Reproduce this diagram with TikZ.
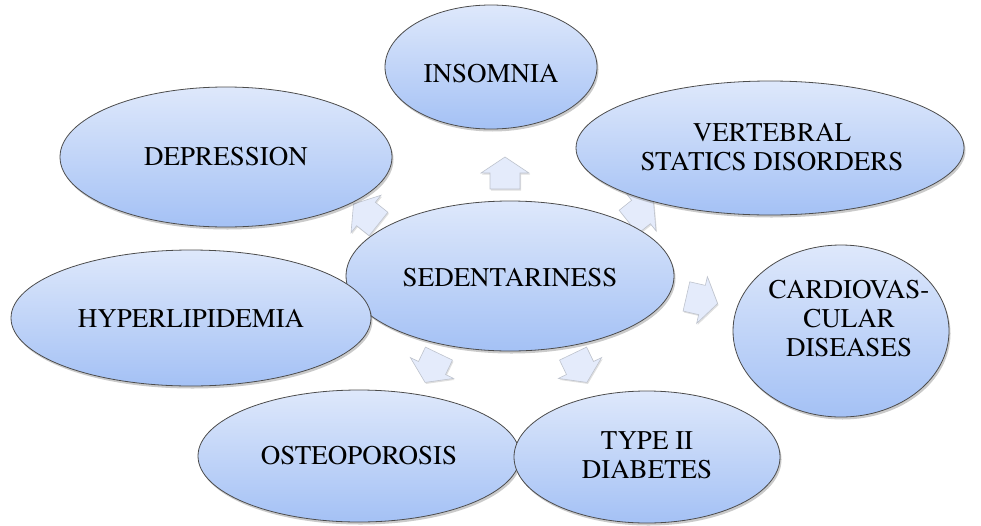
\documentclass[tikz,border=0pt]{standalone}
\usepackage{fontspec}
\setmainfont{texgyretermes}[Extension=.otf, UprightFont=*-regular, BoldFont=*-bold, ItalicFont=*-italic, BoldItalicFont=*-bolditalic]
\usetikzlibrary{shapes.geometric,shadows}
\definecolor{bubtop}{RGB}{222,232,251}
\definecolor{bubbot}{RGB}{164,193,245}
\definecolor{arrfill}{RGB}{228,235,251}
\definecolor{arredge}{RGB}{190,195,205}
\begin{document}
\begin{tikzpicture}[x=1pt,y=-1pt,
  bub/.style={ellipse, draw=black!70, line width=0.8pt, top color=bubtop, bottom color=bubbot, inner sep=0pt,
    drop shadow={shadow xshift=1.5pt, shadow yshift=-2.5pt, opacity=0.35, fill=black!60}},
  txt/.style={align=center, font=\rmfamily\fontsize{27}{29}\selectfont, inner sep=0pt},
  arrsty/.style={fill=arrfill, draw=arredge, line width=0.6pt,
    drop shadow={shadow xshift=1pt, shadow yshift=-1.5pt, opacity=0.25, fill=black!50}},
  blockarrow/.pic={\path[arrsty] (-16,-15) -- (0,-15) -- (0,-24) -- (16,0) -- (0,24) -- (0,15) -- (-16,15) -- cycle;}
]
\useasboundingbox (0,0) rectangle (981,525);
% arrows (behind the ellipses)
\pic[rotate=90] at (505,173) {blockarrow};
\pic[rotate=141.4] at (366,214) {blockarrow};
\pic[rotate=38.6] at (641,212) {blockarrow};
\pic[rotate=-12.9] at (702,300) {blockarrow};
\pic[rotate=-64.3] at (580,368) {blockarrow};
\pic[rotate=-115.7] at (432,368) {blockarrow};
\pic[rotate=192.9] at (358,290) {blockarrow};
% central ellipse
\node[bub, minimum width=328pt, minimum height=150pt] (sed) at (510,276) {};
% outer ellipses
\node[bub, minimum width=212pt, minimum height=124pt] (ins) at (491,67) {};
\node[bub, minimum width=388pt, minimum height=134pt] (ver) at (770,148) {};
\node[bub, minimum width=332pt, minimum height=140pt] (dep) at (226,157) {};
\node[bub, minimum width=360pt, minimum height=136pt] (hyp) at (191,318) {};
\node[bub, minimum width=216pt, minimum height=172pt] (car) at (841,331) {};
\node[bub, minimum width=322pt, minimum height=132pt] (ost) at (359,456) {};
\node[bub, minimum width=266pt, minimum height=132pt] (dia) at (647,457) {};
% texts
\node[txt] (sedT) at (510,278) {SEDENTARINESS};
\node[txt] (insT) at (491,74) {INSOMNIA};
\node[txt] (verT) at (772,147) {VERTEBRAL\\STATICS DISORDERS};
\node[txt] (depT) at (226,157) {DEPRESSION};
\node[txt] (hypT) at (191,318) {HYPERLIPIDEMIA};
\node[txt] (carT) at (849,319) {CARDIOVAS-\\CULAR\\DISEASES};
\node[txt] (ostT) at (359,456) {OSTEOPOROSIS};
\node[txt] (diaT) at (647,455) {TYPE II\\DIABETES};
\end{tikzpicture}
\end{document}
